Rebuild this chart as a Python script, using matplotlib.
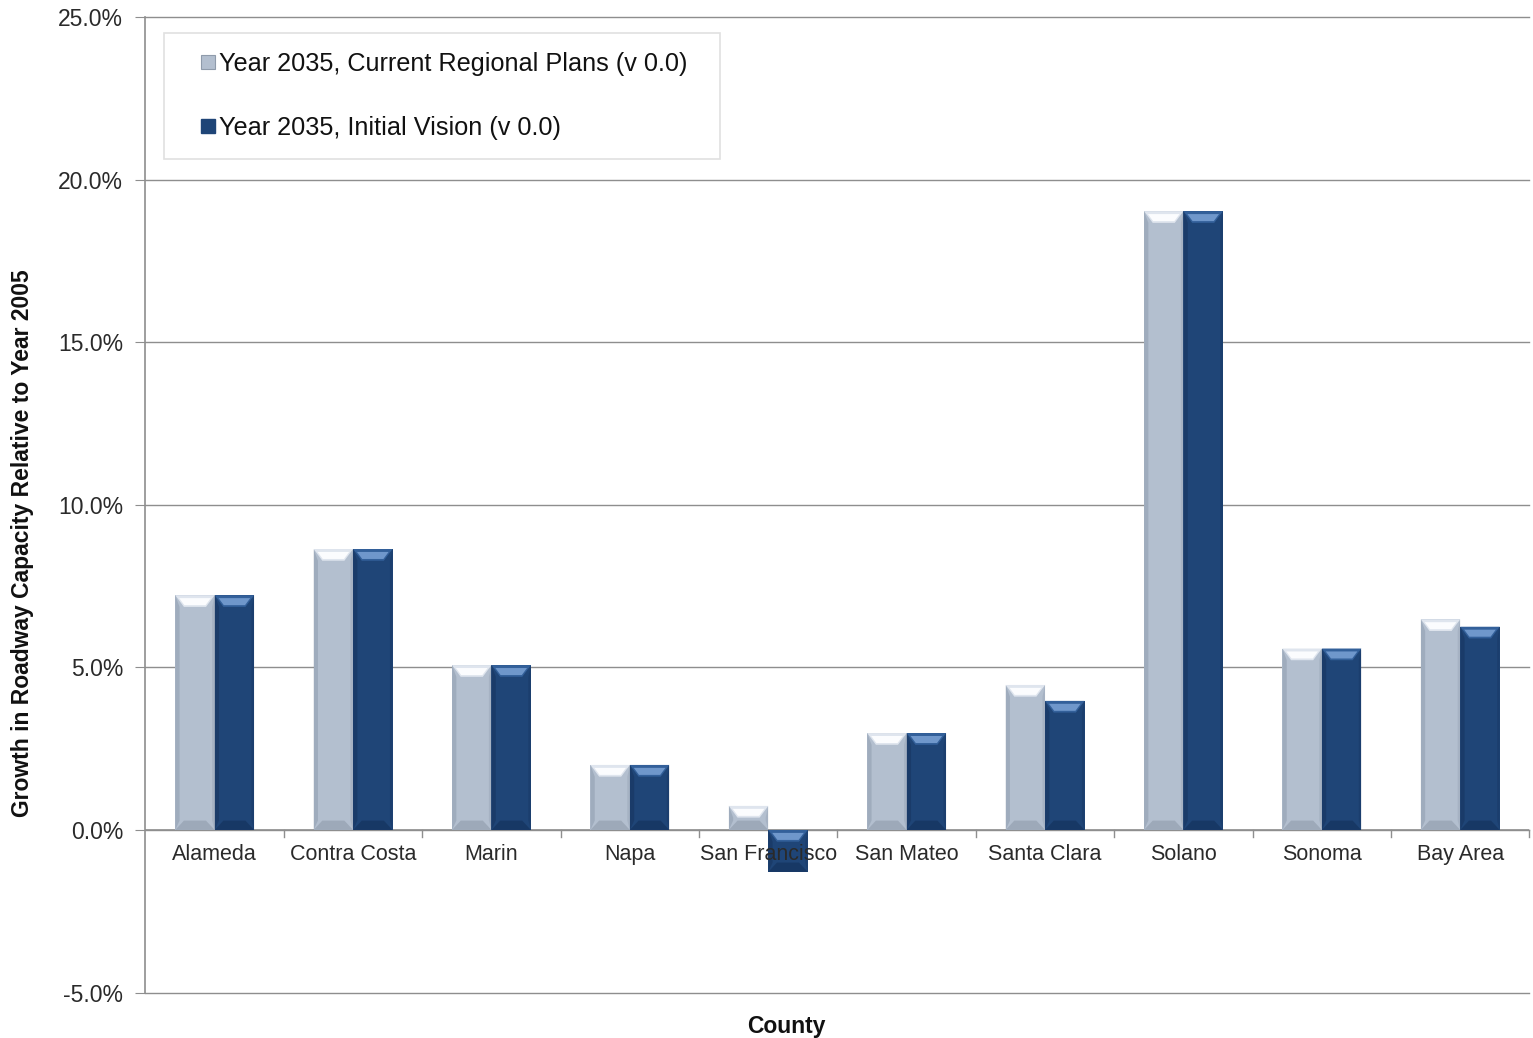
import matplotlib
matplotlib.use("Agg")
import matplotlib.pyplot as plt
import numpy as np
from matplotlib.patches import Polygon
from matplotlib.lines import Line2D
from matplotlib.ticker import FuncFormatter, FixedLocator

plt.rcParams['font.family'] = ['Liberation Sans', 'DejaVu Sans']

# Growth in roadway capacity (%) relative to 2005, by county
counties = ["Alameda", "Contra Costa", "Marin", "Napa", "San Francisco",
            "San Mateo", "Santa Clara", "Solano", "Sonoma", "Bay Area"]
current_plans = [7.22, 8.64, 5.07, 2.00, 0.74, 2.98, 4.46, 19.03, 5.58, 6.48]
initial_vision = [7.22, 8.64, 5.07, 2.00, -1.29, 2.98, 3.97, 19.03, 5.58, 6.25]
series_labels = ["Year 2035, Current Regional Plans (v 0.0)",
                 "Year 2035, Initial Vision (v 0.0)"]
y_ticks = [-5, 0, 5, 10, 15, 20, 25]

light = "#b3bfcf"
dark = "#1f4577"
grid_c = "#8e8e8e"
text_c = "#2a2a2a"

fig = plt.figure(figsize=(15.33, 10.38), dpi=100)
ax = fig.add_axes([0.0949, 0.0434, 0.9028, 0.9402])

x = np.arange(len(counties))
w = 0.285

bars_a = ax.bar(x - w / 2, current_plans, w, color=light, zorder=3)
bars_b = ax.bar(x + w / 2, initial_vision, w, color=dark, zorder=3)

ax.set_xlim(-0.5, len(counties) - 0.5)
ax.set_ylim(-5.012, 25.0)


def quad(pts, color, alpha=1.0):
    ax.add_patch(Polygon(pts, closed=True, facecolor=color, edgecolor="none",
                         alpha=alpha, zorder=4))


def bevel(rect, rim, glow, bottom, left_edge, right_edge):
    """Overlay a soft bevel on a bar patch."""
    x0 = rect.get_x()
    bw = rect.get_width()
    x1 = x0 + bw
    y_a = rect.get_y()
    y_b = y_a + rect.get_height()
    lo, hi = min(y_a, y_b), max(y_a, y_b)
    bx = bw * 0.22
    by = min(0.36, (hi - lo) / 2)
    # top bevel: outer rim then inner glow
    quad([[x0, hi], [x1, hi], [x1 - bx, hi - by], [x0 + bx, hi - by]], rim)
    quad([[x0 + bx * 0.45, hi - by * 0.25], [x1 - bx * 0.45, hi - by * 0.25],
          [x1 - bx * 1.05, hi - by * 0.85], [x0 + bx * 1.05, hi - by * 0.85]], glow)
    # bottom bevel
    quad([[x0, lo], [x1, lo], [x1 - bx, lo + by * 0.8], [x0 + bx, lo + by * 0.8]], bottom, 0.6)
    # side bevels
    quad([[x0, lo], [x0 + bx * 0.5, lo + by * 0.8], [x0 + bx * 0.5, hi - by], [x0, hi]],
         left_edge, 0.45)
    quad([[x1, lo], [x1 - bx * 0.3, lo + by * 0.8], [x1 - bx * 0.3, hi - by], [x1, hi]],
         right_edge, 0.3)


for r in bars_a:
    bevel(r, "#dfe5ee", "#fbfcfe", "#8f9bab", "#8896a8", "#8896a8")
for r in bars_b:
    bevel(r, "#33609a", "#6f97cb", "#13305a", "#14305a", "#14305a")

# gridlines and value axis
ax.yaxis.set_major_locator(FixedLocator(y_ticks))
ax.yaxis.set_major_formatter(FuncFormatter(lambda v, p: f"{v:.1f}%"))
ax.grid(axis="y", color=grid_c, linewidth=1.0, zorder=0)
for gl in ax.get_ygridlines():
    gl.set_clip_on(False)
for s in ["top", "right", "bottom"]:
    ax.spines[s].set_visible(False)
ax.spines["left"].set_color(grid_c)
ax.spines["left"].set_linewidth(1.2)
ax.tick_params(axis="y", length=7, color=grid_c, labelsize=16.5, labelcolor=text_c, pad=9)

# category axis along zero
ax.axhline(0, color=grid_c, linewidth=1.2, zorder=2)
ax.set_xticks([])
for b in np.arange(0.5, len(counties), 1.0):
    ax.plot([b, b], [0, -0.22], color=grid_c, linewidth=1.0, zorder=2, clip_on=False)
for xi, name in zip(x, counties):
    ax.text(xi, -0.42, name, ha="center", va="top", fontsize=15.5, color=text_c, zorder=5)

fig.text(0.0144, 0.477, "Growth in Roadway Capacity Relative to Year 2005",
         rotation=90, ha="center", va="center", fontsize=16.5,
         fontweight="bold", color="#111111")
fig.text(0.513, 0.0106, "County", ha="center", va="center", fontsize=16.5,
         fontweight="bold", color="#111111")

# legend with small square swatches
handles = [Line2D([], [], linestyle="none", marker="s", markersize=10,
                  markerfacecolor=light, markeredgecolor="#8f9bab", markeredgewidth=0.8),
           Line2D([], [], linestyle="none", marker="s", markersize=10,
                  markerfacecolor=dark, markeredgecolor=dark)]
leg = ax.legend(handles, [s + "  " for s in series_labels], loc="upper left",
                bbox_to_anchor=(0.0133, 0.984),
                fontsize=18.2, frameon=True, fancybox=False, labelspacing=1.6,
                handlelength=1.98, handletextpad=-0.55,
                borderpad=0.75, borderaxespad=0.0)
leg.get_frame().set_edgecolor("#d9d9d9")
leg.get_frame().set_linewidth(1.2)
leg.set_zorder(6)
for t in leg.get_texts():
    t.set_color("#111111")

fig.savefig("out.png", dpi=100, facecolor="white")
